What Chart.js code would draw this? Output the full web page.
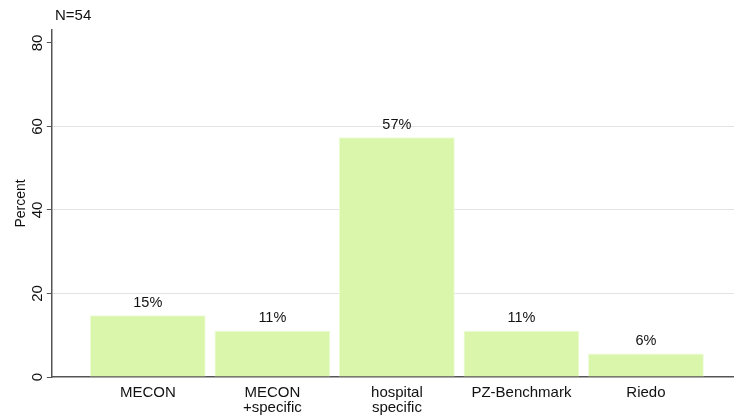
<!DOCTYPE html>
<html>
<head>
<meta charset="utf-8">
<script src="https://cdn.jsdelivr.net/npm/chart.js@4.4.1/dist/chart.umd.min.js"></script>
<style>
  html, body { margin: 0; padding: 0; background: #fff; }
  #wrap { position: relative; width: 734px; height: 416px; }
</style>
</head>
<body>
<div id="wrap"><canvas id="grafico" width="734" height="416"></canvas></div>
<script>
// dados do grafico
const categorias = [['MECON'], ['MECON', '+specific'], ['hospital', 'specific'], ['PZ-Benchmark'], ['Riedo']];
const percentuais = [14.8, 11.1, 57.4, 11.1, 5.6];
const ticksY = [0, 20, 40, 60, 80];
const nTotal = 54;

const fonte = '"Liberation Sans", Arial, sans-serif';

// rotulos em cima das barras + N
const rotulos = {
  id: 'rotulos',
  afterDatasetsDraw(chart) {
    const ctx = chart.ctx;
    ctx.save();
    ctx.fillStyle = '#111';
    ctx.font = '14.5px ' + fonte;
    ctx.textAlign = 'center';
    ctx.textBaseline = 'bottom';
    chart.getDatasetMeta(0).data.forEach((bar, i) => {
      ctx.fillText(Math.round(percentuais[i]) + '%', bar.x, bar.y - 5);
    });
    ctx.textAlign = 'left';
    ctx.textBaseline = 'middle';
    ctx.font = '15px ' + fonte;
    ctx.fillText('N=' + nTotal, 55, 16);
    ctx.restore();
  }
};

new Chart(document.getElementById('grafico').getContext('2d'), {
  type: 'bar',
  data: {
    datasets: [{
      data: percentuais.map((v, i) => ({ x: i, y: v })),
      backgroundColor: 'rgb(217,246,171)',
      borderColor: 'rgb(236,251,214)',
      borderWidth: 1,
      categoryPercentage: 1,
      barPercentage: 0.93
    }]
  },
  options: {
    responsive: false,
    animation: false,
    layout: { padding: { top: 30, left: 13, right: 0, bottom: 0 } },
    plugins: { legend: { display: false }, tooltip: { enabled: false } },
    scales: {
      x: {
        type: 'linear',
        offset: false,
        min: -0.771,
        max: 4.707,
        afterFit: (axis) => { axis.height = 39; },
        grid: { display: true, drawOnChartArea: false, drawTicks: false, offset: false },
        border: { display: true, color: '#555', width: 1.5 },
        ticks: {
          stepSize: 1,
          includeBounds: false,
          padding: 8,
          maxRotation: 0,
          color: '#111',
          font: { family: fonte, size: 15, lineHeight: 1.0 },
          callback: (v) => Number.isInteger(v) && categorias[v] ? categorias[v] : ''
        }
      },
      y: {
        min: 0,
        max: 83.1,
        afterBuildTicks: (axis) => { axis.ticks = ticksY.map(v => ({ value: v })); },
        afterFit: (axis) => { axis.paddingTop = 0; axis.paddingBottom = 0; },
        grid: {
          color: (c) => (c.tick && (c.tick.value === 0 || c.tick.value === 80)) ? 'rgba(0,0,0,0)' : '#e3e3e3',
          tickColor: '#555',
          tickLength: 5,
          lineWidth: 1
        },
        border: { display: true, color: '#555', width: 1.5 },
        ticks: {
          minRotation: 90,
          maxRotation: 90,
          crossAlign: 'center',
          padding: 1,
          color: '#111',
          font: { family: fonte, size: 15 }
        },
        title: {
          display: true,
          text: 'Percent',
          color: '#111',
          padding: { top: 0, bottom: -3 },
          font: { family: fonte, size: 14 }
        }
      }
    }
  },
  plugins: [rotulos]
});
</script>
</body>
</html>
